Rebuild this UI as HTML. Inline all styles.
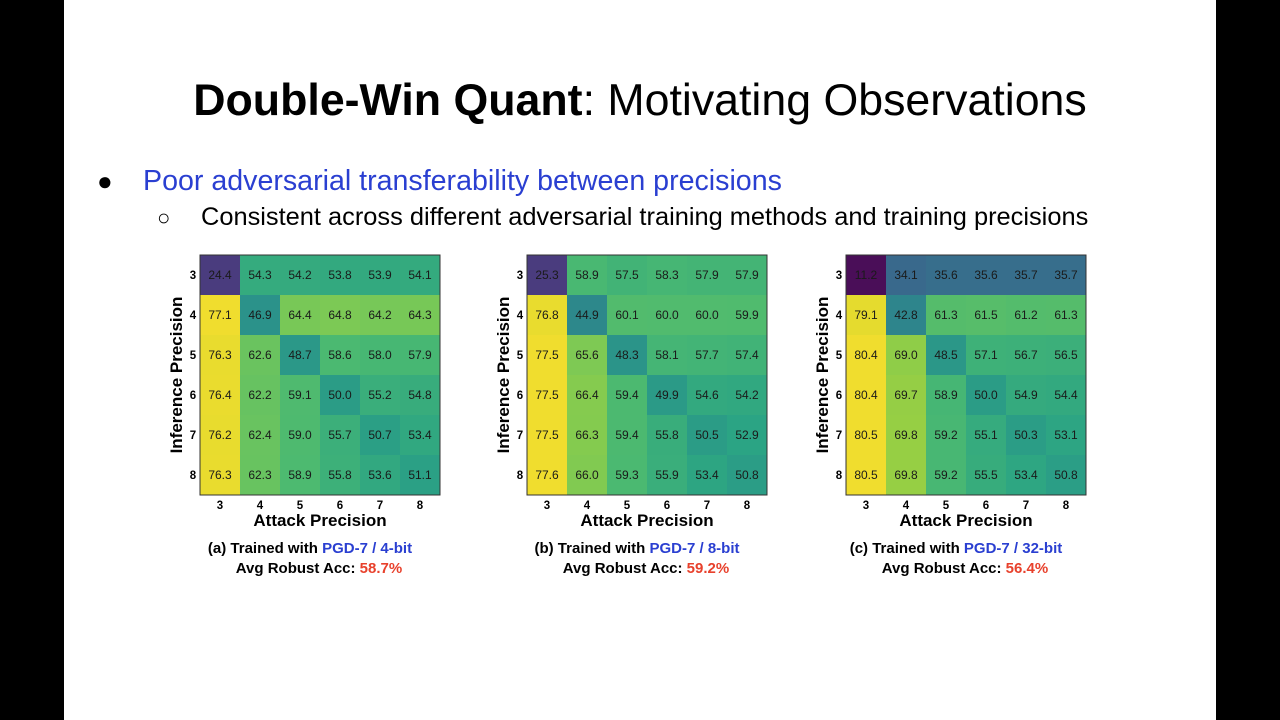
<!DOCTYPE html>
<html><head><meta charset="utf-8"><style>
body{margin:0;width:1280px;height:720px;background:#000;overflow:hidden;font-family:"Liberation Sans",sans-serif}
#s{position:absolute;left:64px;top:0;width:1152px;height:720px;background:#fff}
.t{position:absolute;white-space:nowrap}
</style></head><body>
<div id="s"></div>
<div class="t" style="left:0;width:1280px;text-align:center;top:76px;font-size:44.7px;color:#000"><b>Double-Win Quant</b>: Motivating Observations</div>
<div class="t" style="left:97px;top:166px;font-size:26px">●</div>
<div class="t" style="left:143px;top:165px;font-size:28.6px;color:#2a3fd1">Poor adversarial transferability between precisions</div>
<div class="t" style="left:157px;top:205px;font-size:22px">○</div>
<div class="t" style="left:201px;top:203px;font-size:25.4px">Consistent across different adversarial training methods and training precisions</div>
<svg id="g" width="1280" height="720" style="position:absolute;left:0;top:0" font-family="Liberation Sans, sans-serif"></svg>
<script>
const stops=["#440154","#482475","#414487","#355f8d","#2a788e","#21918c","#22a884","#44bf70","#7ad151","#bddf26","#fde725"];
function h(c){return [1,3,5].map(i=>parseInt(c.substr(i,2),16))}
function vir(t){t=Math.max(0,Math.min(1,t));let p=t*10,i=Math.min(9,Math.floor(p)),f=p-i;let a=h(stops[i]),b=h(stops[i+1]);
let c=a.map((v,k)=>v+(b[k]-v)*f);c=c.map(v=>Math.round(v*0.9+255*0.05));return `rgb(${c})`}
const D=[
[[24.4,54.3,54.2,53.8,53.9,54.1],[77.1,46.9,64.4,64.8,64.2,64.3],[76.3,62.6,48.7,58.6,58.0,57.9],[76.4,62.2,59.1,50.0,55.2,54.8],[76.2,62.4,59.0,55.7,50.7,53.4],[76.3,62.3,58.9,55.8,53.6,51.1]],
[[25.3,58.9,57.5,58.3,57.9,57.9],[76.8,44.9,60.1,60.0,60.0,59.9],[77.5,65.6,48.3,58.1,57.7,57.4],[77.5,66.4,59.4,49.9,54.6,54.2],[77.5,66.3,59.4,55.8,50.5,52.9],[77.6,66.0,59.3,55.9,53.4,50.8]],
[[11.2,34.1,35.6,35.6,35.7,35.7],[79.1,42.8,61.3,61.5,61.2,61.3],[80.4,69.0,48.5,57.1,56.7,56.5],[80.4,69.7,58.9,50.0,54.9,54.4],[80.5,69.8,59.2,55.1,50.3,53.1],[80.5,69.8,59.2,55.5,53.4,50.8]]];
const X=[200,527,846],Y=255,C=40;
const cap=[["(a)","4-bit","58.7%"],["(b)","8-bit","59.2%"],["(c)","32-bit","56.4%"]];
let s="";
D.forEach((m,k)=>{const x0=X[k];
const all=m.flat(),mn=Math.min(...all),mx=Math.max(...all);
m.forEach((r,i)=>r.forEach((v,j)=>{let t=(v-mn)/(mx-mn); if(k<2)t=t*0.85+0.15;
s+=`<rect x="${x0+j*C}" y="${Y+i*C}" width="${C}" height="${C}" fill="${vir(t)}"/>`;
s+=`<text x="${x0+j*C+20}" y="${Y+i*C+24}" font-size="12" text-anchor="middle" fill="#1a1a1a">${v.toFixed(1)}</text>`;}));
s+=`<rect x="${x0}" y="${Y}" width="240" height="240" fill="none" stroke="#333" stroke-width="1"/>`;
for(let i=0;i<6;i++){s+=`<text x="${x0-7}" y="${Y+i*C+24}" font-size="11.5" font-weight="bold" text-anchor="middle">${i+3}</text>`;
s+=`<text x="${x0+i*C+20}" y="${Y+254}" font-size="11.5" font-weight="bold" text-anchor="middle">${i+3}</text>`;}
s+=`<text x="${x0+120}" y="${Y+271}" font-size="17" font-weight="bold" text-anchor="middle">Attack Precision</text>`;
s+=`<text transform="translate(${x0-18},${Y+120}) rotate(-90)" font-size="17" font-weight="bold" text-anchor="middle">Inference Precision</text>`;
s+=`<text x="${x0+110}" y="${Y+298}" font-size="15" font-weight="bold" text-anchor="middle">${cap[k][0]} Trained with <tspan fill="#2a3fd1">PGD-7 / ${cap[k][1]}</tspan></text>`;
s+=`<text x="${x0+119}" y="${Y+318}" font-size="15" font-weight="bold" text-anchor="middle">Avg Robust Acc: <tspan fill="#e8412c">${cap[k][2]}</tspan></text>`;
});
document.getElementById("g").innerHTML=s;
</script>
</body></html>
